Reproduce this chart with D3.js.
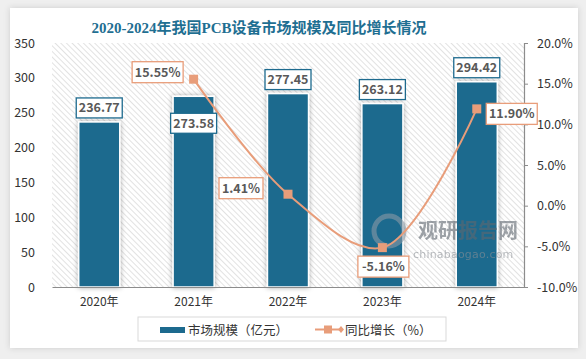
<!DOCTYPE html>
<html><head><meta charset="utf-8">
<script src="https://cdn.jsdelivr.net/npm/d3@7"></script>
<style>
html,body{margin:0;padding:0;background:#efefef;}
svg{display:block;}
</style></head>
<body>
<svg id="chart" width="586" height="359"></svg>
<script>
const categories = ["2020年","2021年","2022年","2023年","2024年"];
const marketSize = [236.77, 273.58, 277.45, 263.12, 294.42];
const growth = [null, 15.55, 1.41, -5.16, 11.90];
const leftTicks = [0,50,100,150,200,250,300,350];
const rightTicks = [-10,-5,0,5,10,15,20];
const titleText = "2020-2024年我国PCB设备市场规模及同比增长情况";
const seriesNames = ["市场规模（亿元）","同比增长（%）"];

const svg = d3.select("#chart");
const m = {l:52, r:524, t:43, b:287};
const blue = "#1d6a8e", orange = "#e89d7a", txt = "#333333", lbl = "#595959";
const font = "'Noto Sans CJK SC','Noto Sans',sans-serif";

const defs = svg.append("defs");
const pat = defs.append("pattern").attr("id","hatch").attr("patternUnits","userSpaceOnUse")
  .attr("width",4).attr("height",4).attr("patternTransform","rotate(-45)");
pat.append("rect").attr("width",4).attr("height",4).attr("fill","#ffffff");
pat.append("line").attr("x1",0).attr("y1",0).attr("x2",0).attr("y2",4).attr("stroke","#cfcfcf").attr("stroke-width",1.2);
const f = defs.append("filter").attr("id","shadow").attr("x","-30%").attr("y","-10%").attr("width","160%").attr("height","120%");
f.append("feDropShadow").attr("dx",0).attr("dy",0).attr("stdDeviation",2.5).attr("flood-color","#000").attr("flood-opacity",0.35);
const cf = defs.append("filter").attr("id","cardshadow").attr("x","-5%").attr("y","-5%").attr("width","110%").attr("height","110%");
cf.append("feDropShadow").attr("dx",0).attr("dy",0).attr("stdDeviation",3).attr("flood-color","#000").attr("flood-opacity",0.15);

// card
svg.append("rect").attr("x",10).attr("y",8).attr("width",568).attr("height",340).attr("fill","#fff").attr("filter","url(#cardshadow)");

// title
svg.append("text").attr("x",259).attr("y",33).attr("text-anchor","middle")
  .attr("font-family","'Liberation Serif','Noto Sans CJK SC',serif").attr("font-weight","bold")
  .attr("font-size",15).attr("fill","#1f6f92").text(titleText);

const x = d3.scaleBand().domain(categories).range([m.l,m.r]).paddingInner(0.565).paddingOuter(0.283);
const y = d3.scaleLinear().domain([0,350]).range([m.b,m.t]);
const y2 = d3.scaleLinear().domain([-10,20]).range([m.b,m.t]);

// plot bg
svg.append("rect").attr("x",m.l).attr("y",m.t).attr("width",m.r-m.l).attr("height",m.b-m.t).attr("fill","url(#hatch)");

// bars
svg.append("g").selectAll("rect").data(marketSize).join("rect")
  .attr("x",(d,i)=>x(categories[i])).attr("y",d=>y(d))
  .attr("width",x.bandwidth()).attr("height",d=>y(0)-y(d))
  .attr("fill",blue).attr("stroke","#fff").attr("stroke-width",1.5).attr("filter","url(#shadow)");

// left axis
const gl = svg.append("g").attr("transform",`translate(${m.l},0)`)
  .call(d3.axisLeft(y).tickValues(leftTicks).tickSize(0).tickPadding(17));
gl.select(".domain").remove();
gl.selectAll("text").attr("font-family",font).attr("font-size",12.5).attr("fill",txt);

// bottom axis
const gb = svg.append("g").attr("transform",`translate(0,${m.b})`)
  .call(d3.axisBottom(x).tickSize(0).tickPadding(10));
gb.select(".domain").attr("stroke","#8c8c8c").attr("stroke-width",1.2);
gb.selectAll("text").attr("font-family",font).attr("font-size",12).attr("fill",txt);

// right axis
const gr = svg.append("g").attr("transform",`translate(${m.r},0)`)
  .call(d3.axisRight(y2).tickValues(rightTicks).tickSize(4).tickPadding(9).tickFormat(d=>d.toFixed(1)+"%"));
gr.select(".domain").attr("stroke","#8c8c8c").attr("stroke-width",1.2);
gr.selectAll(".tick line").attr("stroke","#8c8c8c");
gr.selectAll("text").attr("font-family",font).attr("font-size",12.5).attr("fill",txt);

// watermark
const wm = svg.append("g").attr("opacity",0.6);
wm.append("circle").attr("cx",389).attr("cy",231).attr("r",15).attr("fill","none").attr("stroke","#8a9aa6").attr("stroke-width",5);
wm.append("text").attr("x",418).attr("y",238).attr("font-family",font).attr("font-weight","bold")
  .attr("font-size",20).attr("fill","#5f6770").text("观研报告网");
wm.append("text").attr("x",413).attr("y",258).attr("font-family","'DejaVu Sans',sans-serif")
  .attr("font-size",11).attr("fill","#8a8f95").attr("letter-spacing",0.2).text("chinabaogao.com");

// line
const pts = growth.map((g,i)=>({g,i})).filter(d=>d.g!==null);
const cx = i => x(categories[i]) + x.bandwidth()/2;
svg.append("path").datum(pts)
  .attr("d",d3.line().x(d=>cx(d.i)).y(d=>y2(d.g)).curve(d3.curveCatmullRom.alpha(0.5)))
  .attr("fill","none").attr("stroke",orange).attr("stroke-width",2);
svg.append("g").selectAll("rect").data(pts).join("rect")
  .attr("x",d=>cx(d.i)-4.5).attr("y",d=>y2(d.g)-4.5).attr("width",9).attr("height",9).attr("fill",orange);

// labels
function box(cxp, cyp, w, h, text, stroke){
  const g = svg.append("g");
  g.append("rect").attr("x",cxp-w/2).attr("y",cyp-h/2).attr("width",w).attr("height",h)
    .attr("fill","#fff").attr("stroke",stroke).attr("stroke-width",1.3);
  g.append("text").attr("x",cxp).attr("y",cyp+4.5).attr("text-anchor","middle")
    .attr("font-family",font).attr("font-weight","bold").attr("font-size",12.5).attr("fill",lbl).text(text);
}
marketSize.forEach((v,i)=>{
  const c = cx(i);
  const top = y(v);
  const cyp = i===1 ? top + 27 : top - 14;
  box(c, cyp, 46, 20, v.toFixed(2), blue);
});
const gOff = {1:[-36,-7], 2:[-47,-6], 3:[1,19], 4:[35,5]};
pts.forEach(d=>{
  const o = gOff[d.i];
  const t = d.g.toFixed(2)+"%";
  const w = t.length>5 ? 51 : 44;
  box(cx(d.i)+o[0], y2(d.g)+o[1], w, 21, t, orange);
});

// legend
svg.append("rect").attr("x",138).attr("y",317).attr("width",308).attr("height",24).attr("fill","#fff").attr("stroke","#d9d9d9");
svg.append("rect").attr("x",160).attr("y",327).attr("width",25).attr("height",6).attr("fill",blue);
svg.append("text").attr("x",188).attr("y",334.5).attr("font-family",font).attr("font-size",12.5).attr("fill",txt).text(seriesNames[0]);
svg.append("line").attr("x1",315).attr("x2",341).attr("y1",329.5).attr("y2",329.5).attr("stroke",orange).attr("stroke-width",2);
svg.append("rect").attr("x",324).attr("y",325.5).attr("width",8).attr("height",8).attr("fill",orange);
svg.append("path").attr("d","M341,326 L344,329.5 L341,333 L338,329.5Z").attr("fill",orange);
svg.append("text").attr("x",345).attr("y",334.5).attr("font-family",font).attr("font-size",12.5).attr("fill",txt).text(seriesNames[1]);
</script>
</body></html>
